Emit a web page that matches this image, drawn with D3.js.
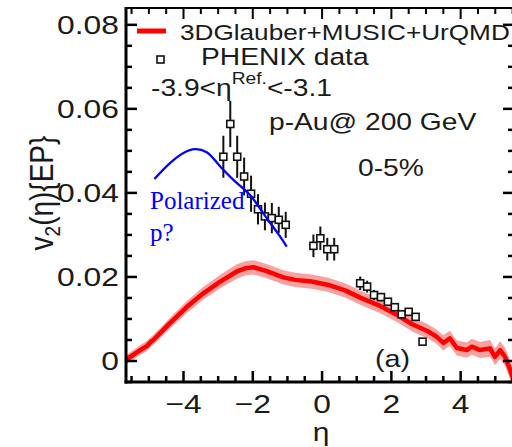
<!DOCTYPE html>
<html>
<head>
<meta charset="UTF-8">
<title>v2 p-Au</title>
<style>
    body { margin: 0; background: white; }
    svg { display: block; font-family: "Liberation Sans", Arial, sans-serif; }
</style>
</head>
<body>
<svg></svg>
<script src="https://d3js.org/d3.v7.min.js"></script>
<script>
    let width = 512, height = 447

    // PHENIX data
    let phenixEta = [-2.85, -2.65, -2.45, -2.25, -2.05, -1.85, -1.65, -1.45, -1.25, -1.05,
        -0.25, -0.05, 0.15, 0.35,
        1.1, 1.3, 1.5, 1.7, 1.9, 2.1, 2.3, 2.5, 2.7, 2.9]
    let phenixV2 = [0.0486, 0.0564, 0.0486, 0.0439, 0.0398, 0.0361, 0.0344, 0.0340, 0.0336, 0.0324,
        0.0274, 0.0292, 0.0266, 0.0266,
        0.0185, 0.0177, 0.0157, 0.0152, 0.0141, 0.0128, 0.0111, 0.0117, 0.0105, 0.0046]
    let phenixErr = [0.0050, 0.0055, 0.0050, 0.0045, 0.0043, 0.0036, 0.0033, 0.0036, 0.0031, 0.0031,
        0.0027, 0.0028, 0.0027, 0.0027,
        0.0016, 0.0014, 0.0012, 0.0010, 0.0009, 0.0008, 0.0006, 0.0005, 0.0004, 0.0]

    // 3DGlauber+MUSIC+UrQMD curve
    let modelEta = [-5.64, -5.25, -5.05, -4.95, -4.87, -4.39, -3.90, -3.43, -2.94, -2.46, -2.2, -1.98,
        -1.6, -1.12, -0.78, -0.30, 0.18, 0.66, 1.15, 1.62, 2.11, 2.59, 3.07, 3.30, 3.50,
        3.69, 3.89, 4.18, 4.32, 4.56, 4.85, 4.99, 5.14, 5.28, 5.43, 5.54]
    let modelV2 = [0.0004, 0.0026, 0.0036, 0.0045, 0.0050, 0.0090, 0.0129, 0.0161, 0.0189, 0.0213, 0.0221, 0.0223,
        0.0214, 0.0199, 0.0193, 0.0189, 0.0181, 0.0168, 0.0149, 0.0133, 0.0112, 0.0088, 0.0070, 0.0058, 0.0043,
        0.0054, 0.0031, 0.0026, 0.0034, 0.0026, 0.0030, 0.0010, 0.0026, 0.0010, -0.0021, -0.0050]
    let modelErr = [0.0005, 0.0006, 0.0006, 0.0006, 0.0006, 0.0007, 0.0008, 0.0009, 0.0010, 0.0011, 0.0011, 0.0011,
        0.0011, 0.0011, 0.0011, 0.0011, 0.0011, 0.0011, 0.0011, 0.0011, 0.0011, 0.0011, 0.0011, 0.0011, 0.0012,
        0.0012, 0.0012, 0.0012, 0.0013, 0.0013, 0.0014, 0.0014, 0.0015, 0.0016, 0.0016, 0.0016]

    // hand drawn blue curve
    let blueEta = [-4.84, -4.39, -4.00, -3.67, -3.33, -2.94, -2.56, -2.08, -1.60, -1.21, -1.02]
    let blueV2 = [0.0433, 0.0471, 0.0495, 0.0504, 0.0497, 0.0463, 0.0431, 0.0395, 0.0340, 0.0296, 0.0272]

    let xTicks = [-4, -2, 0, 2, 4]
    let yTicks = [0, 0.02, 0.04, 0.06, 0.08]

    const SX = 1.2   // the figure is stretched sideways

    let svg = d3.select("svg")
        .attr("width", width)
        .attr("height", height)

    let x = d3.scaleLinear().domain([-5.66, 5.54]).range([126, 514])
    let y = d3.scaleLinear().domain([-0.005, 0.084]).range([382, 8])

    svg.append("clipPath").attr("id", "plotclip")
        .append("rect")
        .attr("x", x.range()[0]).attr("y", y.range()[1])
        .attr("width", x.range()[1] - x.range()[0])
        .attr("height", y.range()[0] - y.range()[1])

    function label(px, py, str, size, anchor) {
        return svg.append("text")
            .attr("transform", "translate(" + px + "," + py + ") scale(" + SX + ",1)")
            .attr("text-anchor", anchor || "start")
            .attr("font-size", size)
            .attr("fill", "#1a1a1a")
            .text(str)
    }

    // model band + line
    let model = modelEta.map((e, i) => ({ eta: e, v: modelV2[i], err: modelErr[i] }))
    let plot = svg.append("g").attr("clip-path", "url(#plotclip)")

    plot.append("path")
        .datum(model)
        .attr("fill", "#f7a1a1")
        .attr("d", d3.area()
            .x(d => x(d.eta))
            .y0(d => y(d.v - d.err - 0.0006))
            .y1(d => y(d.v + d.err + 0.0006)))

    plot.append("path")
        .datum(model)
        .attr("fill", "none")
        .attr("stroke", "#ff0000")
        .attr("stroke-width", 4.5)
        .attr("stroke-linejoin", "round")
        .attr("d", d3.line().x(d => x(d.eta)).y(d => y(d.v)))

    // PHENIX points
    let pts = phenixEta.map((e, i) => ({ eta: e, v: phenixV2[i], err: phenixErr[i] }))
    let pg = plot.append("g")
    pg.selectAll("line")
        .data(pts.filter(d => d.err > 0))
        .enter().append("line")
        .attr("x1", d => x(d.eta)).attr("x2", d => x(d.eta))
        .attr("y1", d => y(d.v - d.err)).attr("y2", d => y(d.v + d.err))
        .attr("stroke", "#111")
        .attr("stroke-width", 2)
    pg.selectAll("rect")
        .data(pts)
        .enter().append("rect")
        .attr("x", d => x(d.eta) - 3.5).attr("y", d => y(d.v) - 3.5)
        .attr("width", 7).attr("height", 7)
        .attr("fill", "white")
        .attr("stroke", "#111")
        .attr("stroke-width", 1.6)

    // blue sketch
    svg.append("path")
        .datum(blueEta.map((e, i) => [e, blueV2[i]]))
        .attr("fill", "none")
        .attr("stroke", "#0000ff")
        .attr("stroke-width", 2.3)
        .attr("d", d3.line().x(d => x(d[0])).y(d => y(d[1])).curve(d3.curveCatmullRom))

    svg.append("text")
        .attr("x", 150).attr("y", 209)
        .attr("font-family", "Liberation Serif, Times New Roman, serif")
        .attr("font-size", 25)
        .attr("fill", "#0000ff")
        .text("Polarized")
    svg.append("text")
        .attr("x", 150).attr("y", 241)
        .attr("font-family", "Liberation Serif, Times New Roman, serif")
        .attr("font-size", 25)
        .attr("fill", "#0000ff")
        .text("p?")

    // frame
    let frame = svg.append("g").attr("stroke", "black").attr("fill", "none")
    frame.append("line").attr("x1", 126).attr("x2", 126).attr("y1", 7).attr("y2", 383.5).attr("stroke-width", 3)
    frame.append("line").attr("x1", 124.5).attr("x2", 516).attr("y1", 382).attr("y2", 382).attr("stroke-width", 3)
    frame.append("line").attr("x1", 126).attr("x2", 516).attr("y1", 8).attr("y2", 8).attr("stroke-width", 2)
    frame.append("line").attr("x1", 514).attr("x2", 514).attr("y1", 8).attr("y2", 382).attr("stroke-width", 2)

    let yMinor = d3.range(-0.005, 0.0841, 0.005).filter(v => !yTicks.some(t => Math.abs(t - v) < 1e-6))
    let xMinor = d3.range(-5.5, 5.51, 0.5).filter(v => !xTicks.some(t => Math.abs(t - v) < 1e-6))

    yTicks.forEach(t => {
        frame.append("line").attr("x1", 126).attr("x2", 137).attr("y1", y(t)).attr("y2", y(t)).attr("stroke-width", 2.5)
        frame.append("line").attr("x1", 503).attr("x2", 514).attr("y1", y(t)).attr("y2", y(t)).attr("stroke-width", 2.5)
    })
    yMinor.forEach(t => {
        frame.append("line").attr("x1", 126).attr("x2", 132).attr("y1", y(t)).attr("y2", y(t)).attr("stroke-width", 2.5)
        frame.append("line").attr("x1", 508).attr("x2", 514).attr("y1", y(t)).attr("y2", y(t)).attr("stroke-width", 2.5)
    })
    xTicks.forEach(t => {
        frame.append("line").attr("x1", x(t)).attr("x2", x(t)).attr("y1", 382).attr("y2", 371).attr("stroke-width", 2.5)
        frame.append("line").attr("x1", x(t)).attr("x2", x(t)).attr("y1", 8).attr("y2", 19).attr("stroke-width", 2)
    })
    xMinor.forEach(t => {
        frame.append("line").attr("x1", x(t)).attr("x2", x(t)).attr("y1", 382).attr("y2", 376).attr("stroke-width", 2.5)
        frame.append("line").attr("x1", x(t)).attr("x2", x(t)).attr("y1", 8).attr("y2", 14).attr("stroke-width", 2)
    })

    // tick labels
    let yFmt = d => d === 0 ? "0" : d3.format(".2f")(d)
    yTicks.forEach(t => label(119, y(t) + 9.5, yFmt(t), 26.5, "end"))
    xTicks.forEach(t => label(x(t), 412.5, d3.format("d")(t), 26.5, "middle"))

    // axis titles
    label(321, 441, "η", 25, "middle")
    let yt = svg.append("text")
        .attr("transform", "translate(53,193) scale(" + SX + ",1) rotate(-90)")
        .attr("text-anchor", "middle")
        .attr("font-size", 28)
        .attr("fill", "#1a1a1a")
    yt.append("tspan").text("v")
    yt.append("tspan").attr("font-size", 19).attr("dy", 6).text("2")
    yt.append("tspan").attr("dy", -6).text("(η){EP}")

    // legend
    svg.append("line")
        .attr("x1", 137).attr("x2", 166).attr("y1", 31).attr("y2", 31)
        .attr("stroke", "#ff0000").attr("stroke-width", 5)
    label(180, 40, "3DGlauber+MUSIC+UrQMD", 21.8)
    svg.append("rect")
        .attr("x", 157).attr("y", 56).attr("width", 7).attr("height", 7)
        .attr("fill", "white").attr("stroke", "#111").attr("stroke-width", 1.6)
    label(201, 65, "PHENIX data", 23.5)

    let ref = label(151, 96, "-3.9<η", 23.5)
    ref.append("tspan").attr("font-size", 16).attr("dy", -12).text("Ref.")
    ref.append("tspan").attr("dy", 12).text("<-3.1")

    label(269, 130, "p-Au@ 200 GeV", 23.5)
    label(358, 176, "0-5%", 23.5)
    label(375, 367, "(a)", 24)
</script>
</body>
</html>
